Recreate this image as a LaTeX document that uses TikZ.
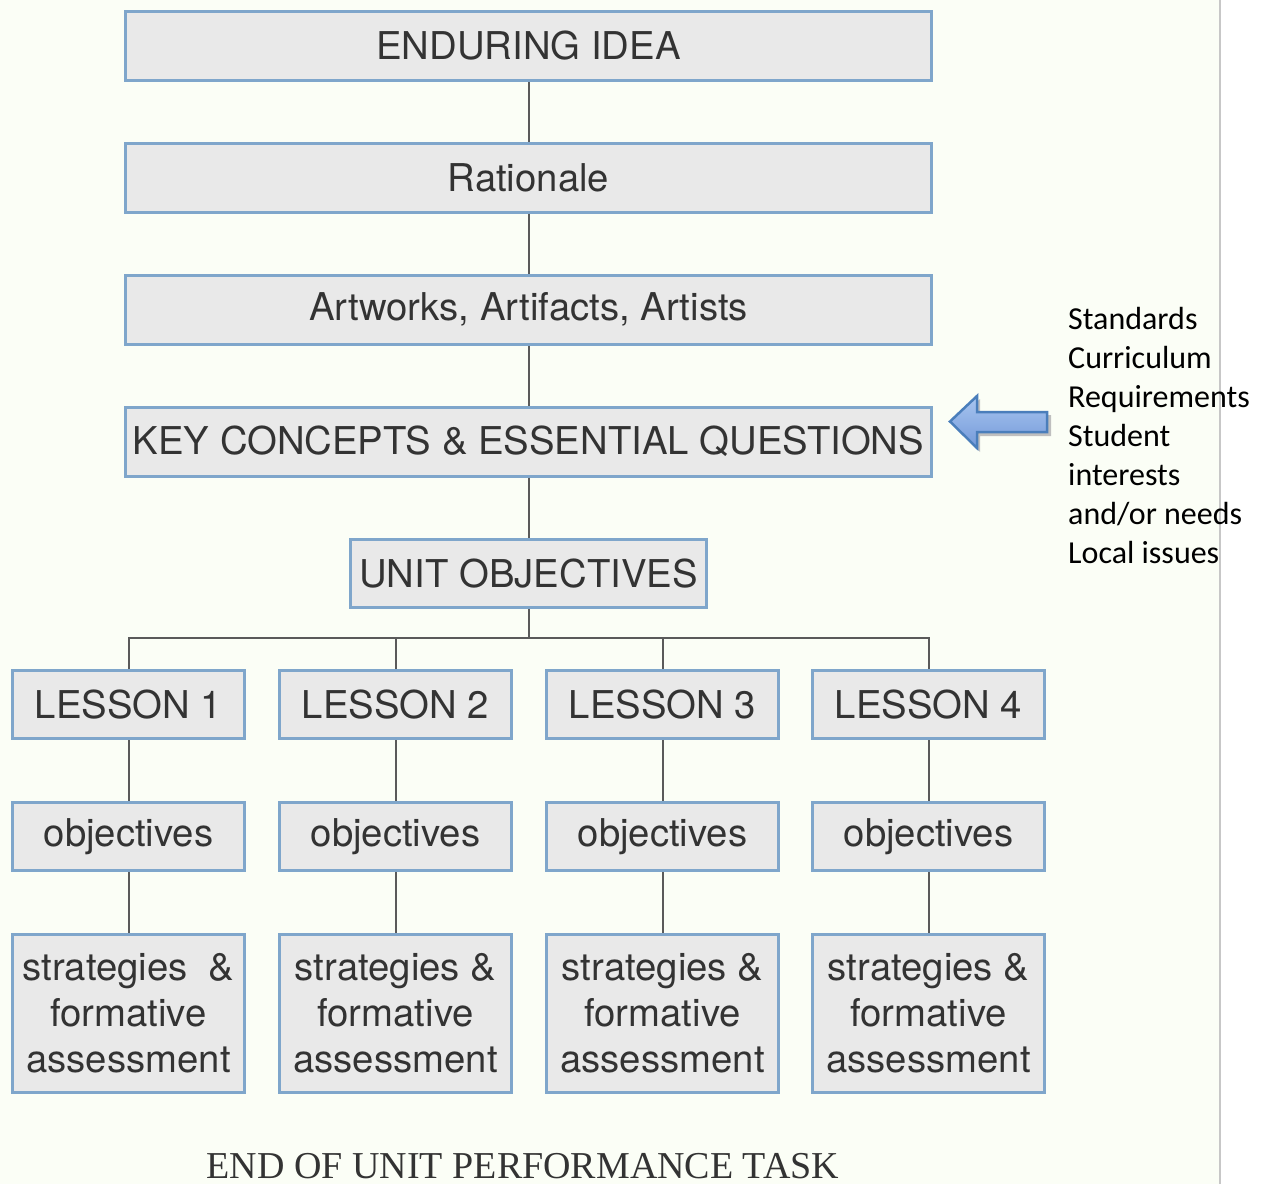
\documentclass[tikz,border=0pt]{standalone}
\usepackage{fontspec}
\setmainfont{TeX Gyre Heros}
\newfontfamily\calibfam{Carlito}
\newfontfamily\timesfam{Liberation Serif}
\usetikzlibrary{shadings}
\definecolor{bgleft}{HTML}{FBFEF6}
\definecolor{boxfill}{HTML}{E9E9E9}
\definecolor{boxblue}{HTML}{7FA6CB}
\definecolor{txtgray}{HTML}{333333}
\definecolor{linegray}{HTML}{5A5A5A}
\definecolor{arrowborder}{HTML}{4A7EBB}
\definecolor{arrowtop}{HTML}{A9C6F0}
\definecolor{arrowbot}{HTML}{7399D9}
\newcommand\myboxfont{\fontsize{38.3}{46}\selectfont}
\begin{document}
\begin{tikzpicture}[x=1pt,y=-1pt,
  box/.style={draw=boxblue, line width=3pt, fill=boxfill, text=txtgray,
    inner sep=0pt, font=\myboxfont, align=center},
  wide/.style={box, minimum width=806pt, minimum height=69pt},
  small/.style={box, minimum width=232pt, minimum height=68pt},
  tall/.style={box, minimum width=232pt, minimum height=158pt},
  conn/.style={draw=linegray, line width=2pt}]
\useasboundingbox (0,0) rectangle (1271,1184);
\fill[bgleft] (0,0) rectangle (1219,1184);
\fill[white] (1219,0) rectangle (1271,1184);
\draw[line width=2pt, draw=black!22] (1219.5,0) -- (1219.5,1184);

\node[wide] (ei) at (528.5,46) {ENDURING IDEA};
\node[wide] (ra) at (528.5,177.5) {Rationale};
\node[wide] (aa) at (528.5,309.5) {Artworks, Artifacts, Artists};
\node[wide] (kc) at (528.5,441.5) {KEY CONCEPTS \& ESSENTIAL QUESTIONS};
\node[box, minimum width=356pt, minimum height=68pt] (uo) at (528.5,573.5) {UNIT OBJECTIVES};
\coordinate (bus) at (528.5,638);

\foreach \i/\x in {1/128.5,2/395.5,3/662.5,4/928.5}{
  \node[small] (l\i) at (\x,704.5) {LESSON \i};
  \node[small] (o\i) at (\x,836.5) {objectives};
}
\node[tall] (s1) at (128.5,1013.5) {strategies\ \ \&\\formative\\assessment};
\node[tall] (s2) at (395.5,1013.5) {strategies \&\\formative\\assessment};
\node[tall] (s3) at (662.5,1013.5) {strategies \&\\formative\\assessment};
\node[tall] (s4) at (928.5,1013.5) {strategies \&\\formative\\assessment};

\draw[conn] (ei) -- (ra);
\draw[conn] (ra) -- (aa);
\draw[conn] (aa) -- (kc);
\draw[conn] (kc) -- (uo);
\draw[conn] (uo.south) -- (bus);
\draw[conn] (l1.north) |- (bus) -| (l4.north);
\draw[conn] (l2.north) -- (l2.north |- bus);
\draw[conn] (l3.north) -- (l3.north |- bus);
\foreach \i in {1,2,3,4}{
  \draw[conn] (l\i) -- (o\i);
  \draw[conn] (o\i) -- (s\i);
}

% block arrow
\fill[black!25] (953,425) -- (980,399) -- (980,415) -- (1051,415) -- (1051,436) -- (980,436) -- (980,452) -- cycle;
\shade[top color=arrowtop, bottom color=arrowbot, draw=arrowborder, line width=2.5pt, line join=miter]
  (950,421.5) -- (977,396) -- (977,412) -- (1047,412) -- (1047,432) -- (977,432) -- (977,448) -- cycle;

\node[anchor=base west, inner sep=0pt, font=\calibfam\fontsize{32}{39}\selectfont, text=black] (side) at (1068,329)
  {\begin{tabular}[t]{@{}l@{}}Standards\\Curriculum\\Requirements\\Student\\interests\\and/or needs\\Local issues\end{tabular}};

\node[anchor=base, inner sep=0pt, font=\timesfam\fontsize{38}{44}\selectfont, text=txtgray] (end) at (523,1178) {END OF UNIT PERFORMANCE TASK};
\end{tikzpicture}
\end{document}
